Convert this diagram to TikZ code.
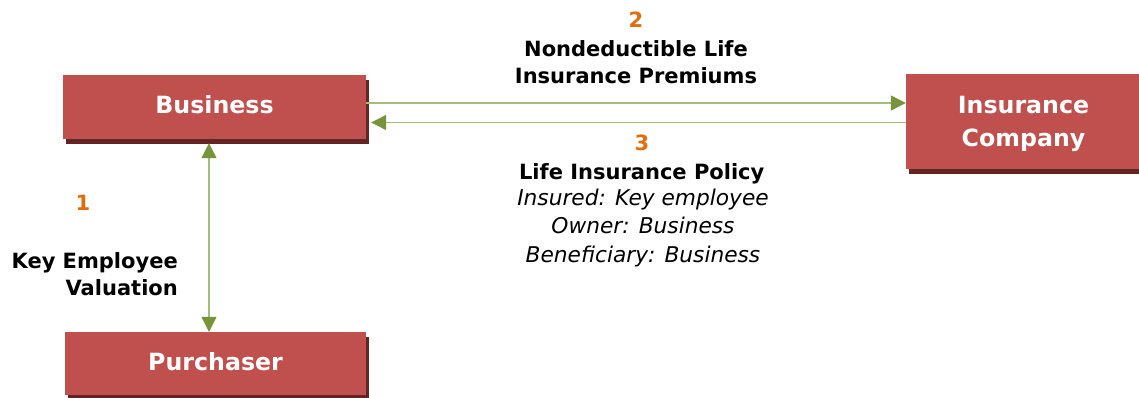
\documentclass[tikz,border=0pt]{standalone}
\usepackage{fontspec}
\setmainfont{DejaVu Sans}
\usetikzlibrary{arrows.meta,shadows}
\definecolor{boxred}{HTML}{C0504D}
\definecolor{shadowred}{HTML}{632523}
\definecolor{numorange}{HTML}{E46C0A}
\definecolor{arrowgreen}{HTML}{77933C}
\definecolor{linegreen}{HTML}{A3BD7A}
\tikzset{gtip/.tip={Triangle[length=15pt,width=15pt,color=arrowgreen,fill=arrowgreen]}}
\begin{document}
\begin{tikzpicture}[x=1pt,y=-1pt,
  boxnode/.style={rectangle, fill=boxred, text=white, inner sep=0pt,
    font=\fontsize{23.7}{33}\selectfont\bfseries, align=center, text depth=5.6pt,
    drop shadow={shadow xshift=2.5pt, shadow yshift=-5pt, fill=shadowred, opacity=1}},
  conn/.style={draw=linegreen, line width=1.2pt, -gtip},
  dconn/.style={draw=linegreen, line width=1.2pt, gtip-gtip},
  lbl/.style={inner sep=0pt, align=center, font=\fontsize{21}{27}\selectfont\bfseries},
  num/.style={inner sep=0pt, text=numorange, font=\fontsize{21}{27}\selectfont\bfseries},
  ital/.style={inner sep=0pt, align=center, font=\fontsize{21.7}{28.5}\selectfont\itshape}]
\useasboundingbox (0,0) rectangle (1139,397);
\node[boxnode, minimum width=303pt, minimum height=64pt] (business) at (214.5,107) {Business};
\node[boxnode, minimum width=235pt, minimum height=95pt, text depth=0.8pt] (insurance) at (1023.5,121.5) {Insurance\\Company};
\node[boxnode, minimum width=301pt, minimum height=63pt, text depth=4.5pt] (purchaser) at (215.5,363.5) {Purchaser};
\draw[conn] ([yshift=4pt]business.east) -- ([yshift=18.5pt]insurance.west);
\draw[conn] ([yshift=-1pt]insurance.west) -- ([xshift=5pt,yshift=-15.5pt]business.east);
\draw[dconn] ([xshift=-5.5pt,yshift=-4pt]business.south) -- ([xshift=-6.5pt]purchaser.north);
\node[num, anchor=base] (n2) at (636,27) {2};
\node[lbl, anchor=base] (l2) at (636,83) {Nondeductible Life\\Insurance Premiums};
\node[num, anchor=base] (n3) at (642,150) {3};
\node[lbl, anchor=base] (l3) at (641.7,179) {Life Insurance Policy};
\node[ital, anchor=base] (i3) at (643,262) {Insured: Key employee\\Owner: Business\\Beneficiary: Business};
\node[num, anchor=base] (n1) at (83,210) {1};
\node[lbl, align=right, anchor=base east] (l1) at (178,295) {Key Employee\\Valuation};
\end{tikzpicture}
\end{document}
